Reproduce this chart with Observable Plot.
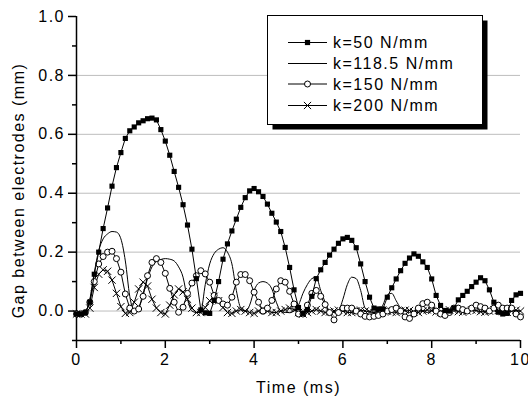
<!DOCTYPE html>
<html>
<head>
<meta charset="utf-8">
<script src="https://cdn.jsdelivr.net/npm/d3@7"></script>
<script src="https://cdn.jsdelivr.net/npm/@observablehq/plot@0.6"></script>
<style>
  html, body { margin: 0; padding: 0; background: #fff; }
  svg { display: block; }
</style>
</head>
<body>
<div id="chart"></div>
<script>
// ---- data ----
const time = [0,0.1,0.2,0.3,0.4,0.5,0.6,0.7,0.8,0.9,1,1.1,1.2,1.3,1.4,1.5,1.6,1.7,1.8,1.9,2,2.1,2.2,2.3,2.4,2.5,2.6,2.7,2.8,2.9,3,3.1,3.2,3.3,3.4,3.5,3.6,3.7,3.8,3.9,4,4.1,4.2,4.3,4.4,4.5,4.6,4.7,4.8,4.9,5,5.1,5.2,5.3,5.4,5.5,5.6,5.7,5.8,5.9,6,6.1,6.2,6.3,6.4,6.5,6.6,6.7,6.8,6.9,7,7.1,7.2,7.3,7.4,7.5,7.6,7.7,7.8,7.9,8,8.1,8.2,8.3,8.4,8.5,8.6,8.7,8.8,8.9,9,9.1,9.2,9.3,9.4,9.5,9.6,9.7,9.8,9.9,10];

const k50 = [-0.01,-0.01,-0.005,0.03,0.125,0.2,0.28,0.35,0.424,0.487,0.538,0.586,0.612,0.625,0.639,0.646,0.653,0.655,0.649,0.616,0.577,0.529,0.474,0.42,0.361,0.292,0.21,0.11,0.004,-0.006,-0.008,0.036,0.1,0.176,0.228,0.272,0.312,0.352,0.385,0.408,0.416,0.405,0.389,0.363,0.332,0.302,0.27,0.216,0.148,0.072,0.012,-0.008,0.005,0.05,0.11,0.14,0.165,0.19,0.21,0.23,0.245,0.25,0.24,0.215,0.16,0.1,0.047,0.01,0.007,0.007,0.047,0.079,0.109,0.137,0.162,0.18,0.194,0.186,0.167,0.148,0.109,0.053,0.019,0.002,0.0,0.01,0.038,0.053,0.067,0.083,0.098,0.113,0.103,0.072,0.03,-0.004,-0.01,-0.008,0.036,0.055,0.06];

const k118 = [-0.01,-0.01,-0.005,0.04,0.13,0.205,0.245,0.262,0.27,0.268,0.245,0.17,0.05,0.0,0.012,0.06,0.11,0.15,0.168,0.175,0.178,0.176,0.17,0.15,0.115,0.04,0.0,-0.005,0.0,0.09,0.16,0.195,0.21,0.215,0.2,0.16,0.07,0.01,0.0,0.02,0.07,0.095,0.1,0.095,0.075,0.03,0.0,-0.005,-0.005,0.0,0.02,0.06,0.09,0.11,0.115,0.07,0.03,0.0,-0.005,0.0,0.04,0.09,0.115,0.11,0.07,0.01,0.0,-0.005,0.0,0.02,0.055,0.06,0.035,0.01,0.0,-0.005,0.0,0.005,0.0,-0.005,0.0,0.005,0.002,-0.004,0.0,0.004,0.002,-0.003,0.0,0.004,0.002,-0.003,0.0,0.004,0.002,-0.003,0.0,0.003,0.002,-0.002,0.0];

const k150 = [-0.01,-0.01,-0.005,0.03,0.1,0.16,0.185,0.2,0.203,0.178,0.132,0.058,0.01,0.0,0.007,0.05,0.12,0.165,0.178,0.165,0.128,0.077,0.03,-0.004,0.013,0.06,0.095,0.12,0.137,0.126,0.098,0.053,0.036,0.024,0.02,0.047,0.098,0.124,0.124,0.103,0.064,0.03,0.0,0.01,0.036,0.075,0.103,0.098,0.067,0.024,-0.01,-0.01,0.02,0.06,0.07,0.05,0.022,-0.005,-0.03,-0.005,0.01,0.01,0.01,0.0,-0.01,-0.018,-0.02,-0.018,-0.015,-0.01,0.0,0.005,0.01,0.0,-0.02,-0.025,-0.01,0.01,0.025,0.03,0.02,0.0,-0.01,-0.015,-0.005,0.01,0.01,0.005,0.0,0.01,0.02,0.015,0.01,0.0,0.01,0.02,0.01,0.01,0.01,-0.01,-0.02];

const k200 = [-0.01,-0.01,-0.01,0.01,0.08,0.125,0.14,0.135,0.105,0.06,0.015,-0.008,-0.005,0.03,0.075,0.098,0.085,0.04,0.01,-0.005,-0.01,0.02,0.055,0.075,0.065,0.04,0.01,-0.005,-0.005,0.012,0.035,0.05,0.035,0.012,-0.005,-0.008,0.0,0.005,0.0,-0.005,-0.008,0.0,0.005,0.0,-0.005,-0.005,0.0,0.005,0.01,0.005,-0.005,-0.01,-0.005,0.0,0.005,0.0,-0.005,-0.003,0.0,0.003,0.0,-0.005,-0.005,0.0,0.003,0.0,-0.003,-0.005,0.0,0.003,0.0,-0.003,-0.005,0.0,0.003,0.002,-0.003,-0.005,0.0,0.004,0.002,-0.003,-0.005,0.0,0.004,0.002,-0.002,-0.004,0.0,0.004,0.002,-0.002,-0.004,0.0,0.004,0.002,-0.002,-0.004,0.0,0.003,0.0];

const legendLabels = ["k=50 N/mm", "k=118.5 N/mm", "k=150 N/mm", "k=200 N/mm"];
const yMajor = [0, 0.2, 0.4, 0.6, 0.8, 1.0];
const yMinor = [-0.1, 0.1, 0.3, 0.5, 0.7, 0.9];
const yGrid = [0, 0.2, 0.4, 0.6, 0.8];
const xMajor = [0, 2, 4, 6, 8, 10];
const xMinor = [1, 3, 5, 7, 9];
const xLabel = "Time (ms)";
const yLabel = "Gap between electrodes (mm)";

// ---- tables ----
const rows = (vals) => time.map((t, i) => ({t, v: vals[i]})).filter(d => d.v != null);
const d50 = rows(k50), d118 = rows(k118), d150 = rows(k150), d200 = rows(k200);

const chart = Plot.plot({
  width: 528,
  height: 400,
  marginLeft: 76,
  marginRight: 8,
  marginTop: 16,
  marginBottom: 60,
  x: {domain: [0, 10]},
  y: {domain: [-0.1, 1.0]},
  style: {
    fontFamily: "'Liberation Sans', Arial, Helvetica, sans-serif",
    fontSize: "16px",
    letterSpacing: "1.5px",
    color: "#000",
    background: "#fff",
    overflow: "hidden"
  },
  marks: [
    Plot.gridY(yGrid, {stroke: "#bdbdbd", strokeOpacity: 1, strokeWidth: 1}),
    Plot.axisY(yMajor, {tickSize: 8, tickPadding: 3.5, tickFormat: d => d.toFixed(1), label: null, strokeWidth: 1.5, fill: "#000"}),
    Plot.axisY(yMinor, {tickSize: 4, tickFormat: () => "", label: null, strokeWidth: 1.5}),
    Plot.axisX(xMajor, {tickSize: 8, tickPadding: 5, tickFormat: d => String(d), label: null, strokeWidth: 1.5, fill: "#000"}),
    Plot.axisX(xMinor, {tickSize: 4, tickFormat: () => "", label: null, strokeWidth: 1.5}),
    Plot.ruleX([0], {stroke: "#000", strokeWidth: 1.5}),
    Plot.ruleY([-0.1], {stroke: "#000", strokeWidth: 1.5}),
    Plot.text([xLabel], {frameAnchor: "bottom", textAnchor: "middle", lineAnchor: "bottom", dy: 52, fill: "#000"}),
    Plot.text([yLabel], {frameAnchor: "left", rotate: -90, textAnchor: "middle", lineAnchor: "bottom", dx: -52.5, dy: 12, fill: "#000"}),
    // k=118.5 (plain line)
    Plot.line(d118, {x: "t", y: "v", stroke: "#000", strokeWidth: 1, curve: "monotone-x"}),
    // k=200 (crosses)
    Plot.line(d200, {x: "t", y: "v", stroke: "#000", strokeWidth: 1}),
    Plot.dot(d200, {x: "t", y: "v", symbol: "times", r: 3.4, stroke: "#000", strokeWidth: 1}),
    // k=150 (open circles)
    Plot.line(d150, {x: "t", y: "v", stroke: "#000", strokeWidth: 1}),
    Plot.dot(d150, {x: "t", y: "v", symbol: "circle", r: 3, fill: "#fff", stroke: "#000", strokeWidth: 1}),
    // k=50 (filled squares)
    Plot.line(d50, {x: "t", y: "v", stroke: "#000", strokeWidth: 1}),
    Plot.dot(d50, {x: "t", y: "v", symbol: "square", r: 2.9, fill: "#000", stroke: "none"})
  ]
});

document.getElementById("chart").appendChild(chart);

// ---- legend box with drop shadow (inside the SVG) ----
const svg = d3.select(chart);
const lg = svg.append("g").attr("class", "legend");
const bx = 267.5, by = 15.5, bw = 215, bh = 109, sh = 5;
lg.append("rect").attr("x", bx + sh).attr("y", by + sh).attr("width", bw).attr("height", bh).attr("fill", "#000");
lg.append("rect").attr("x", bx).attr("y", by).attr("width", bw).attr("height", bh).attr("fill", "#fff").attr("stroke", "#000").attr("stroke-width", 1);
const rowY = [42.5, 63.5, 84, 105.5];
const lx1 = 288, lx2 = 327, mx = 307.5;
legendLabels.forEach((lab, i) => {
  const y = rowY[i];
  lg.append("line").attr("x1", lx1).attr("x2", lx2).attr("y1", y).attr("y2", y).attr("stroke", "#000").attr("stroke-width", 1);
  if (i === 0) {
    lg.append("rect").attr("x", mx - 2.6).attr("y", y - 2.6).attr("width", 5.2).attr("height", 5.2).attr("fill", "#000");
  } else if (i === 2) {
    lg.append("circle").attr("cx", mx).attr("cy", y).attr("r", 3).attr("fill", "#fff").attr("stroke", "#000");
  } else if (i === 3) {
    const a = 3.6;
    lg.append("path").attr("d", `M${mx - a},${y - a}L${mx + a},${y + a}M${mx - a},${y + a}L${mx + a},${y - a}`).attr("stroke", "#000").attr("stroke-width", 1);
  }
  lg.append("text").attr("x", 333).attr("y", y + 5.5).attr("text-anchor", "start").attr("fill", "#000").text(lab);
});
</script>
</body>
</html>
